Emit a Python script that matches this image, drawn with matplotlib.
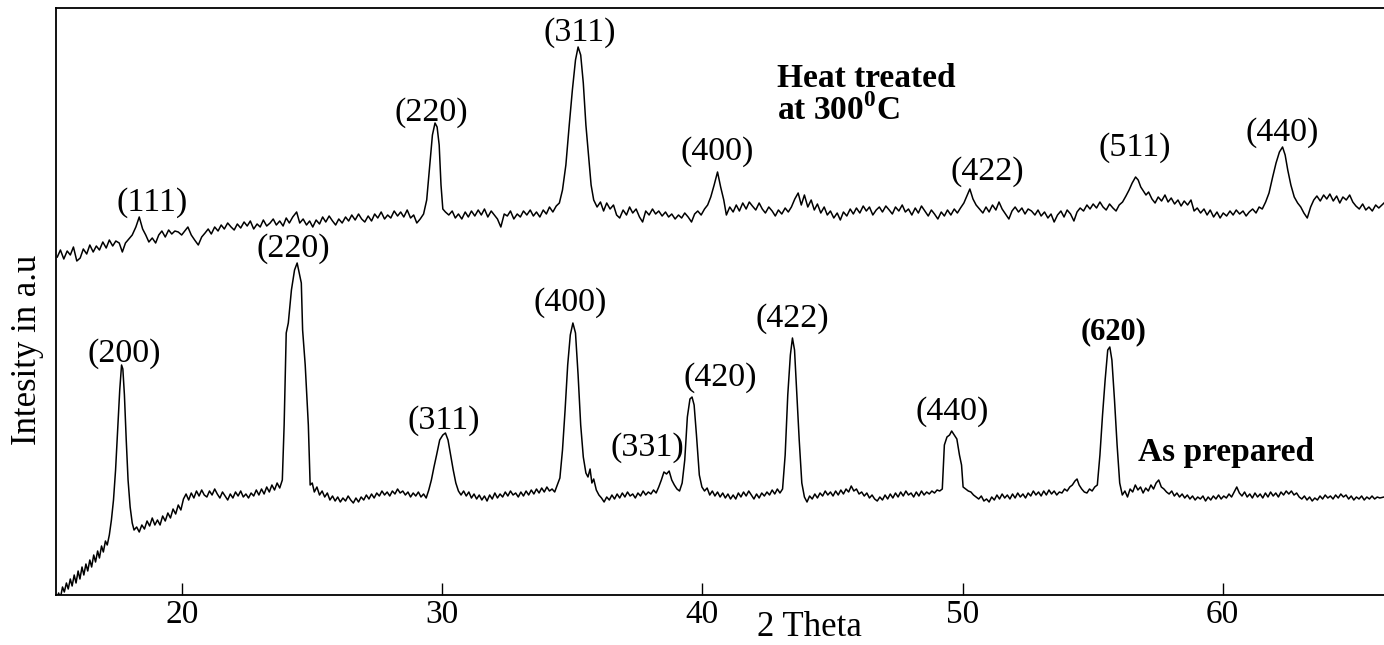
import matplotlib
matplotlib.use("Agg")
import matplotlib.pyplot as plt
import numpy as np

plt.rcParams['font.family'] = ['Liberation Serif', 'DejaVu Serif']
plt.rcParams['mathtext.fontset'] = 'custom'
plt.rcParams['mathtext.rm'] = 'Liberation Serif'
plt.rcParams['mathtext.bf'] = 'Liberation Serif:bold'

# XRD pattern, heat treated at 300 C : (2 theta, intensity a.u.)
heat_treated = [
    (15.20, 338), (15.32, 345), (15.45, 336), (15.58, 344), (15.70, 340), (15.82, 348),
    (15.95, 334), (16.08, 337), (16.20, 346), (16.33, 341), (16.45, 350), (16.58, 343),
    (16.70, 349), (16.82, 345), (16.95, 353), (17.08, 347), (17.20, 355), (17.33, 349),
    (17.45, 354), (17.58, 352), (17.70, 343), (17.82, 352), (17.95, 356), (18.08, 360),
    (18.22, 368), (18.35, 378), (18.48, 366), (18.60, 360), (18.72, 353), (18.85, 357),
    (18.98, 352), (19.10, 360), (19.22, 364), (19.35, 358), (19.48, 365), (19.60, 361),
    (19.72, 364), (19.85, 363), (19.98, 360), (20.10, 364), (20.22, 368), (20.35, 360),
    (20.48, 355), (20.62, 350), (20.75, 358), (20.88, 362), (21.00, 366), (21.12, 361),
    (21.25, 368), (21.38, 364), (21.50, 370), (21.62, 366), (21.75, 372), (21.88, 368),
    (22.00, 365), (22.12, 371), (22.25, 367), (22.38, 373), (22.50, 369), (22.62, 374),
    (22.75, 366), (22.88, 371), (23.00, 368), (23.12, 375), (23.25, 369), (23.38, 372),
    (23.50, 376), (23.62, 370), (23.75, 374), (23.88, 369), (24.00, 377), (24.12, 372),
    (24.25, 378), (24.40, 383), (24.52, 372), (24.65, 376), (24.78, 370), (24.90, 374),
    (25.02, 368), (25.15, 375), (25.28, 371), (25.40, 378), (25.52, 373), (25.65, 379),
    (25.78, 374), (25.90, 370), (26.02, 376), (26.15, 372), (26.28, 378), (26.40, 374),
    (26.52, 380), (26.65, 375), (26.78, 381), (26.90, 376), (27.02, 373), (27.15, 379),
    (27.28, 374), (27.40, 381), (27.52, 377), (27.65, 383), (27.78, 376), (27.90, 380),
    (28.02, 377), (28.15, 384), (28.28, 379), (28.40, 383), (28.52, 378), (28.65, 385),
    (28.78, 377), (28.90, 380), (29.02, 372), (29.15, 376), (29.28, 381), (29.40, 395),
    (29.52, 430), (29.62, 460), (29.72, 472), (29.80, 468), (29.88, 450), (29.95, 410),
    (30.02, 386), (30.12, 383), (30.25, 380), (30.38, 384), (30.50, 377), (30.62, 381),
    (30.75, 376), (30.88, 383), (31.00, 378), (31.12, 384), (31.25, 379), (31.38, 385),
    (31.50, 380), (31.62, 386), (31.75, 378), (31.88, 384), (32.00, 380), (32.12, 376),
    (32.25, 368), (32.38, 381), (32.50, 379), (32.62, 384), (32.75, 376), (32.88, 381),
    (33.00, 378), (33.12, 384), (33.25, 380), (33.38, 385), (33.50, 379), (33.62, 383),
    (33.75, 378), (33.88, 385), (34.00, 381), (34.12, 388), (34.25, 383), (34.38, 389),
    (34.50, 392), (34.62, 405), (34.75, 430), (34.88, 470), (35.00, 505), (35.12, 535),
    (35.22, 548), (35.32, 540), (35.42, 512), (35.52, 470), (35.62, 440), (35.72, 410),
    (35.82, 395), (35.95, 388), (36.08, 393), (36.20, 384), (36.32, 392), (36.45, 386),
    (36.58, 390), (36.70, 380), (36.82, 377), (36.95, 385), (37.08, 380), (37.20, 388),
    (37.32, 382), (37.45, 386), (37.58, 378), (37.70, 373), (37.82, 384), (37.95, 380),
    (38.08, 386), (38.20, 381), (38.32, 384), (38.45, 379), (38.58, 383), (38.70, 378),
    (38.82, 381), (38.95, 376), (39.08, 380), (39.20, 377), (39.32, 382), (39.45, 378),
    (39.58, 373), (39.70, 381), (39.82, 384), (39.95, 380), (40.08, 386), (40.20, 390),
    (40.32, 398), (40.45, 410), (40.58, 423), (40.70, 408), (40.82, 395), (40.92, 380),
    (41.05, 388), (41.18, 383), (41.30, 390), (41.42, 384), (41.55, 392), (41.68, 386),
    (41.80, 393), (41.92, 389), (42.05, 385), (42.18, 392), (42.30, 386), (42.42, 382),
    (42.55, 388), (42.68, 384), (42.80, 379), (42.92, 385), (43.05, 381), (43.18, 387),
    (43.30, 383), (43.42, 388), (43.55, 396), (43.68, 402), (43.80, 390), (43.92, 400),
    (44.05, 388), (44.18, 395), (44.30, 385), (44.42, 391), (44.55, 382), (44.68, 388),
    (44.80, 380), (44.92, 384), (45.05, 377), (45.18, 382), (45.30, 375), (45.42, 383),
    (45.55, 379), (45.68, 386), (45.80, 381), (45.92, 387), (46.05, 382), (46.18, 389),
    (46.30, 384), (46.42, 388), (46.55, 380), (46.68, 385), (46.80, 388), (46.92, 383),
    (47.05, 389), (47.18, 385), (47.30, 381), (47.42, 388), (47.55, 384), (47.68, 390),
    (47.80, 383), (47.92, 386), (48.05, 380), (48.18, 387), (48.30, 382), (48.42, 389),
    (48.55, 384), (48.68, 379), (48.80, 385), (48.92, 381), (49.05, 376), (49.18, 383),
    (49.30, 379), (49.42, 385), (49.55, 380), (49.68, 386), (49.80, 382), (49.92, 387),
    (50.05, 392), (50.18, 400), (50.28, 406), (50.40, 396), (50.52, 390), (50.65, 386),
    (50.78, 382), (50.90, 388), (51.02, 383), (51.15, 390), (51.28, 385), (51.40, 393),
    (51.52, 386), (51.65, 381), (51.78, 376), (51.90, 384), (52.02, 388), (52.15, 383),
    (52.28, 387), (52.40, 381), (52.52, 386), (52.65, 384), (52.78, 380), (52.90, 385),
    (53.02, 379), (53.15, 383), (53.28, 377), (53.40, 381), (53.52, 373), (53.65, 380),
    (53.78, 384), (53.90, 378), (54.02, 385), (54.15, 381), (54.28, 374), (54.40, 383),
    (54.52, 387), (54.65, 384), (54.78, 390), (54.90, 386), (55.02, 391), (55.15, 387),
    (55.28, 393), (55.40, 388), (55.52, 385), (55.65, 391), (55.78, 387), (55.90, 384),
    (56.02, 390), (56.15, 393), (56.28, 399), (56.40, 405), (56.52, 412), (56.65, 418),
    (56.75, 415), (56.85, 408), (56.95, 404), (57.05, 400), (57.15, 403), (57.28, 396),
    (57.40, 392), (57.52, 398), (57.65, 394), (57.78, 400), (57.90, 393), (58.02, 397),
    (58.15, 391), (58.28, 395), (58.40, 389), (58.52, 394), (58.65, 390), (58.78, 395),
    (58.90, 384), (59.02, 387), (59.15, 382), (59.28, 386), (59.40, 380), (59.52, 385),
    (59.65, 378), (59.78, 383), (59.90, 377), (60.02, 382), (60.15, 379), (60.28, 384),
    (60.40, 380), (60.52, 385), (60.65, 381), (60.78, 384), (60.90, 379), (61.02, 383),
    (61.15, 386), (61.28, 382), (61.40, 388), (61.52, 386), (61.65, 393), (61.78, 402),
    (61.92, 418), (62.05, 432), (62.18, 443), (62.30, 448), (62.40, 440), (62.50, 425),
    (62.62, 410), (62.75, 398), (62.88, 392), (63.00, 388), (63.12, 382), (63.25, 377),
    (63.38, 388), (63.50, 395), (63.62, 399), (63.75, 394), (63.88, 400), (64.00, 396),
    (64.12, 401), (64.25, 394), (64.38, 399), (64.50, 392), (64.62, 398), (64.75, 395),
    (64.88, 400), (65.00, 393), (65.12, 389), (65.25, 386), (65.38, 391), (65.50, 385),
    (65.62, 388), (65.75, 384), (65.88, 390), (66.00, 387), (66.20, 392),
]

# XRD pattern, as prepared : (2 theta, intensity a.u.)
as_prepared = [
    (15.15, -8), (15.25, 2), (15.32, -3), (15.40, 8), (15.47, 3), (15.55, 12),
    (15.62, 6), (15.70, 16), (15.77, 9), (15.85, 20), (15.92, 12), (16.00, 24),
    (16.07, 16), (16.15, 28), (16.22, 20), (16.30, 31), (16.37, 24), (16.45, 35),
    (16.52, 28), (16.60, 40), (16.67, 33), (16.75, 44), (16.82, 37), (16.90, 49),
    (16.97, 43), (17.05, 54), (17.12, 50), (17.20, 60), (17.28, 75), (17.36, 95),
    (17.44, 125), (17.52, 165), (17.60, 205), (17.67, 230), (17.72, 226), (17.78, 200),
    (17.85, 155), (17.92, 115), (18.00, 88), (18.08, 72), (18.15, 65), (18.25, 68),
    (18.35, 63), (18.45, 70), (18.55, 66), (18.65, 74), (18.75, 69), (18.85, 77),
    (18.95, 70), (19.05, 75), (19.15, 70), (19.25, 79), (19.35, 74), (19.45, 82),
    (19.55, 77), (19.65, 86), (19.75, 81), (19.85, 90), (19.95, 85), (20.05, 96),
    (20.15, 101), (20.25, 95), (20.35, 102), (20.45, 97), (20.55, 104), (20.65, 99),
    (20.75, 105), (20.85, 100), (20.95, 98), (21.05, 104), (21.15, 100), (21.25, 106),
    (21.35, 101), (21.45, 97), (21.55, 103), (21.65, 99), (21.75, 95), (21.85, 101),
    (21.95, 97), (22.05, 103), (22.15, 99), (22.25, 104), (22.35, 98), (22.45, 101),
    (22.55, 97), (22.65, 102), (22.75, 99), (22.85, 105), (22.95, 100), (23.05, 106),
    (23.15, 101), (23.25, 108), (23.35, 103), (23.45, 110), (23.55, 105), (23.65, 112),
    (23.75, 107), (23.85, 115), (23.92, 170), (24.00, 262), (24.08, 272), (24.20, 305),
    (24.32, 325), (24.42, 332), (24.50, 322), (24.58, 312), (24.63, 265), (24.73, 230),
    (24.85, 170), (24.92, 110), (25.00, 112), (25.08, 103), (25.18, 108), (25.28, 100),
    (25.38, 104), (25.48, 98), (25.58, 102), (25.68, 95), (25.78, 99), (25.88, 94),
    (25.98, 98), (26.08, 93), (26.18, 97), (26.28, 94), (26.38, 99), (26.48, 95),
    (26.58, 92), (26.68, 97), (26.78, 93), (26.88, 98), (26.98, 95), (27.08, 100),
    (27.18, 96), (27.28, 101), (27.38, 97), (27.48, 102), (27.58, 99), (27.68, 104),
    (27.78, 100), (27.88, 103), (27.98, 99), (28.08, 104), (28.18, 101), (28.28, 106),
    (28.38, 102), (28.48, 104), (28.58, 100), (28.68, 103), (28.78, 98), (28.88, 102),
    (28.98, 99), (29.08, 103), (29.18, 98), (29.28, 101), (29.38, 97), (29.48, 105),
    (29.58, 115), (29.68, 128), (29.78, 140), (29.90, 155), (30.02, 160), (30.12, 162),
    (30.22, 155), (30.32, 140), (30.42, 125), (30.52, 112), (30.62, 104), (30.72, 100),
    (30.82, 104), (30.92, 99), (31.02, 103), (31.12, 97), (31.22, 101), (31.32, 96),
    (31.42, 100), (31.52, 95), (31.62, 99), (31.72, 94), (31.82, 100), (31.92, 96),
    (32.02, 102), (32.12, 97), (32.22, 101), (32.32, 98), (32.42, 103), (32.52, 99),
    (32.62, 104), (32.72, 100), (32.82, 102), (32.92, 98), (33.02, 103), (33.12, 99),
    (33.22, 104), (33.32, 100), (33.42, 105), (33.52, 101), (33.62, 106), (33.72, 102),
    (33.82, 107), (33.92, 103), (34.02, 108), (34.12, 104), (34.22, 106), (34.32, 103),
    (34.42, 110), (34.52, 117), (34.62, 145), (34.72, 185), (34.82, 230), (34.92, 260),
    (35.02, 272), (35.12, 262), (35.22, 220), (35.32, 170), (35.42, 138), (35.52, 122),
    (35.60, 118), (35.68, 126), (35.75, 112), (35.82, 116), (35.92, 105), (36.02, 100),
    (36.12, 97), (36.22, 93), (36.32, 98), (36.42, 95), (36.52, 100), (36.62, 96),
    (36.72, 101), (36.82, 97), (36.92, 102), (37.02, 98), (37.12, 103), (37.22, 99),
    (37.32, 101), (37.42, 97), (37.52, 102), (37.62, 99), (37.72, 104), (37.82, 100),
    (37.92, 103), (38.02, 101), (38.12, 105), (38.22, 102), (38.32, 108), (38.42, 115),
    (38.52, 123), (38.62, 121), (38.72, 124), (38.82, 115), (38.92, 110), (39.02, 106),
    (39.12, 104), (39.22, 112), (39.32, 135), (39.42, 178), (39.52, 196), (39.60, 198),
    (39.68, 190), (39.77, 160), (39.88, 120), (39.98, 108), (40.08, 104), (40.18, 107),
    (40.28, 100), (40.38, 104), (40.48, 99), (40.58, 103), (40.68, 98), (40.78, 102),
    (40.88, 97), (40.98, 101), (41.08, 96), (41.18, 100), (41.28, 96), (41.38, 102),
    (41.48, 98), (41.58, 103), (41.68, 99), (41.78, 104), (41.88, 100), (41.98, 96),
    (42.08, 101), (42.18, 97), (42.28, 102), (42.38, 99), (42.48, 103), (42.58, 100),
    (42.68, 105), (42.78, 101), (42.88, 106), (42.98, 102), (43.08, 106), (43.18, 140),
    (43.28, 200), (43.38, 240), (43.46, 257), (43.54, 245), (43.62, 205), (43.72, 155),
    (43.82, 112), (43.92, 98), (44.02, 93), (44.12, 99), (44.22, 96), (44.32, 101),
    (44.42, 97), (44.52, 102), (44.62, 99), (44.72, 104), (44.82, 100), (44.92, 103),
    (45.02, 99), (45.12, 104), (45.22, 100), (45.32, 105), (45.42, 101), (45.52, 106),
    (45.62, 103), (45.72, 109), (45.82, 104), (45.92, 106), (46.02, 101), (46.12, 103),
    (46.22, 99), (46.32, 102), (46.42, 97), (46.52, 100), (46.62, 96), (46.72, 94),
    (46.82, 98), (46.92, 95), (47.02, 100), (47.12, 96), (47.22, 101), (47.32, 97),
    (47.42, 102), (47.52, 98), (47.62, 103), (47.72, 99), (47.82, 104), (47.92, 100),
    (48.02, 102), (48.12, 98), (48.22, 103), (48.32, 99), (48.42, 104), (48.52, 100),
    (48.62, 103), (48.72, 101), (48.82, 104), (48.92, 102), (49.02, 105), (49.12, 104),
    (49.22, 106), (49.30, 150), (49.40, 158), (49.50, 160), (49.58, 164), (49.68, 160),
    (49.78, 156), (49.88, 140), (49.96, 130), (50.02, 108), (50.12, 106), (50.22, 104),
    (50.32, 103), (50.42, 100), (50.52, 98), (50.62, 96), (50.72, 99), (50.82, 94),
    (50.92, 96), (51.02, 93), (51.12, 98), (51.22, 95), (51.32, 100), (51.42, 96),
    (51.52, 101), (51.62, 97), (51.72, 100), (51.82, 96), (51.92, 101), (52.02, 97),
    (52.12, 102), (52.22, 98), (52.32, 101), (52.42, 97), (52.52, 102), (52.62, 99),
    (52.72, 104), (52.82, 100), (52.92, 103), (53.02, 99), (53.12, 104), (53.22, 100),
    (53.32, 105), (53.42, 101), (53.52, 104), (53.62, 100), (53.72, 103), (53.82, 102),
    (53.92, 106), (54.02, 104), (54.12, 108), (54.22, 110), (54.32, 114), (54.40, 116),
    (54.48, 110), (54.58, 106), (54.68, 103), (54.78, 102), (54.88, 106), (54.98, 104),
    (55.08, 108), (55.18, 110), (55.28, 140), (55.38, 180), (55.48, 215), (55.58, 245),
    (55.66, 248), (55.74, 235), (55.84, 195), (55.94, 150), (56.04, 112), (56.14, 100),
    (56.24, 104), (56.34, 98), (56.44, 106), (56.54, 103), (56.64, 110), (56.74, 105),
    (56.84, 108), (56.94, 102), (57.04, 107), (57.14, 104), (57.24, 110), (57.34, 106),
    (57.44, 112), (57.54, 115), (57.64, 108), (57.74, 106), (57.84, 103), (57.94, 101),
    (58.04, 104), (58.14, 99), (58.24, 102), (58.34, 98), (58.44, 101), (58.54, 97),
    (58.64, 100), (58.74, 96), (58.84, 99), (58.94, 95), (59.04, 98), (59.14, 96),
    (59.24, 99), (59.34, 94), (59.44, 98), (59.54, 95), (59.64, 99), (59.74, 96),
    (59.84, 100), (59.94, 96), (60.04, 99), (60.14, 97), (60.24, 101), (60.34, 98),
    (60.44, 103), (60.54, 108), (60.64, 102), (60.74, 99), (60.84, 103), (60.94, 98),
    (61.04, 101), (61.14, 97), (61.24, 102), (61.34, 98), (61.44, 101), (61.54, 97),
    (61.64, 102), (61.74, 98), (61.84, 103), (61.94, 99), (62.04, 102), (62.14, 98),
    (62.24, 103), (62.34, 100), (62.44, 104), (62.54, 101), (62.64, 104), (62.74, 100),
    (62.84, 102), (62.94, 98), (63.04, 96), (63.14, 99), (63.24, 95), (63.34, 98),
    (63.44, 94), (63.54, 97), (63.64, 95), (63.74, 99), (63.84, 96), (63.94, 100),
    (64.04, 97), (64.14, 99), (64.24, 96), (64.34, 100), (64.44, 97), (64.54, 101),
    (64.64, 98), (64.74, 100), (64.84, 96), (64.94, 99), (65.04, 95), (65.14, 98),
    (65.24, 96), (65.34, 99), (65.44, 95), (65.54, 98), (65.64, 96), (65.74, 99),
    (65.84, 96), (65.94, 98), (66.04, 97), (66.20, 98),
]

# peak indices (hkl)
heat_hkl = ['(111)', '(220)', '(311)', '(400)', '(422)', '(511)', '(440)']
heat_hkl_x = [18.83, 29.58, 35.29, 40.56, 50.94, 56.63, 62.29]
heat_hkl_y = [392, 482, 562, 443, 423, 447, 462]

prep_hkl = ['(200)', '(220)', '(311)', '(400)', '(331)', '(420)', '(422)', '(440)']
prep_hkl_x = [17.79, 24.29, 30.06, 34.90, 37.87, 40.67, 43.44, 49.60]
prep_hkl_y = [241, 346, 174, 292, 147, 217, 276, 183]

x_ticks = [20, 30, 40, 50, 60]

fig = plt.figure(figsize=(13.84, 6.45), dpi=100)
ax = fig.add_axes([56 / 1384, 50 / 645, 1328 / 1384, 587 / 645])

tt, ii = zip(*heat_treated)
ax.plot(tt, ii, color='black', lw=1.1)
tt, ii = zip(*as_prepared)
ax.plot(tt, ii, color='black', lw=1.1)

for lab, x, y in zip(heat_hkl, heat_hkl_x, heat_hkl_y):
    ax.text(x, y, lab, ha='center', va='center', fontsize=24.5)
for lab, x, y in zip(prep_hkl, prep_hkl_x, prep_hkl_y):
    ax.text(x, y, lab, ha='center', va='center', fontsize=24.5)
ax.text(55.79, 263, '(620)', ha='center', va='center', fontsize=22, fontweight='bold')

ax.text(42.88, 500, 'Heat treated\nat 300$^{\\mathbf{0}}$C', ha='left', va='center',
        fontsize=24, fontweight='bold', linespacing=1.0)
ax.text(56.73, 142, 'As prepared', ha='left', va='center', fontsize=24, fontweight='bold')

ax.set_xlim(15.15, 66.2)
ax.set_ylim(0, 587)
ax.set_xticks(x_ticks)
ax.set_yticks([])
ax.tick_params(axis='x', direction='in', length=9, width=1, labelsize=24, pad=3)
ax.spines['right'].set_visible(False)
for s in ['left', 'bottom', 'top']:
    ax.spines[s].set_linewidth(1.3)

ax.set_xlabel('2 Theta', fontsize=25)
ax.xaxis.set_label_coords((809 - 56) / 1328, (595 - 628) / 587)
ax.xaxis.label.set_va('center')
ax.set_ylabel('Intesity in a.u', fontsize=25)
ax.yaxis.set_label_coords((28 - 56) / 1328, (595 - 350) / 587)
ax.yaxis.label.set_va('center')

fig.savefig('out.png', dpi=100)
